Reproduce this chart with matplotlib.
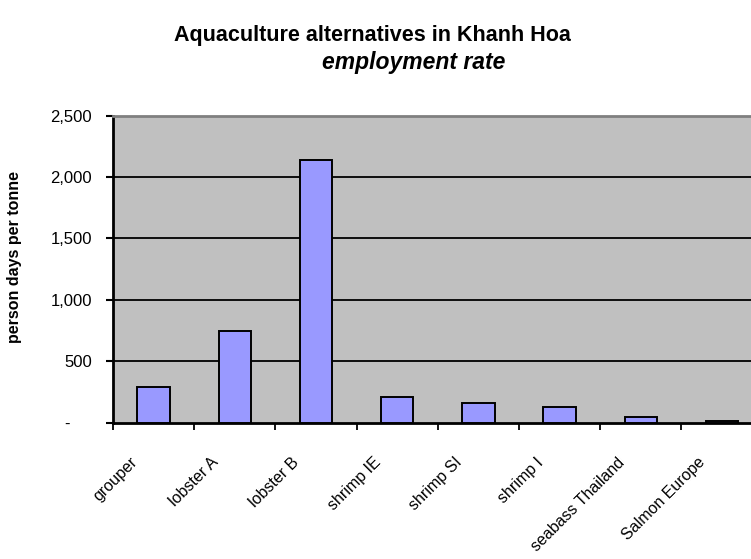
import matplotlib
matplotlib.use("Agg")
import matplotlib.pyplot as plt
from matplotlib.transforms import ScaledTranslation
import numpy as np

categories = ["grouper", "lobster A", "lobster B", "shrimp IE", "shrimp SI",
              "shrimp I", "seabass Thailand", "Salmon Europe"]
values = [290, 750, 2140, 210, 160, 125, 45, 12]
yticks = [0, 500, 1000, 1500, 2000, 2500]
ytick_labels = ["-", "500", "1,000", "1,500", "2,000", "2,500"]

plt.rcParams['font.family'] = ['Liberation Sans', 'DejaVu Sans']

fig = plt.figure(figsize=(7.51, 5.59), dpi=100)
ax = fig.add_axes([113 / 751, (559 - 422.7) / 559, (762.6 - 113) / 751, (422.7 - 115.7) / 559])
ax.set_facecolor("#C0C0C0")

x = np.arange(len(categories)) + 0.5
ax.bar(x, values, width=0.4, color="#9999FF", edgecolor="black", linewidth=1.4, zorder=3)

ax.set_xlim(0, len(categories))
ax.set_ylim(0, 2500)

# gridlines
for v in yticks[1:-1]:
    ax.axhline(v, color="black", linewidth=1.3, zorder=1)

ax.set_yticks(yticks)
ax.set_yticklabels(ytick_labels, fontsize=12)
ax.tick_params(axis='y', direction='out', length=5, width=1.5, pad=10, color="black")

# category boundary ticks
ax.set_xticks(np.arange(len(categories) + 1))
ax.set_xticklabels([])
ax.tick_params(axis='x', which='major', direction='out', length=5, width=1.3)
# labels at category centres
ax.set_xticks(x, minor=True)
ax.set_xticklabels(categories, minor=True, fontsize=11.5, rotation=45,
                   ha='right', va='center', rotation_mode='anchor')
ax.tick_params(axis='x', which='minor', length=0, pad=27)
off = ScaledTranslation(-19 / 100, 0, fig.dpi_scale_trans)
for lbl in ax.get_xticklabels(minor=True):
    lbl.set_transform(lbl.get_transform() + off)

# shift the "-" zero label like Excel's accounting format
dash_off = ScaledTranslation(-22 / 100, 0, fig.dpi_scale_trans)
ylbls = ax.get_yticklabels()
ylbls[0].set_transform(ylbls[0].get_transform() + dash_off)

for s in ["left", "bottom"]:
    ax.spines[s].set_linewidth(2)
    ax.spines[s].set_color("black")
ax.spines["top"].set_color("#808080")
ax.spines["top"].set_linewidth(2)
ax.spines["right"].set_visible(False)

ax.set_ylabel("person days per tonne", fontsize=11.5, fontweight='bold')
ax.yaxis.set_label_coords(21.7 / 751, (559 - 257) / 559, transform=fig.transFigure)

fig.text(372 / 751, 1 - 36 / 559, "Aquaculture alternatives in Khanh Hoa",
         ha='center', va='center', fontsize=15.5, fontweight='bold')
fig.text(414 / 751, 1 - 62 / 559, "employment rate",
         ha='center', va='center', fontsize=16.5, fontweight='bold', style='italic')

fig.savefig("out.png", dpi=100)
